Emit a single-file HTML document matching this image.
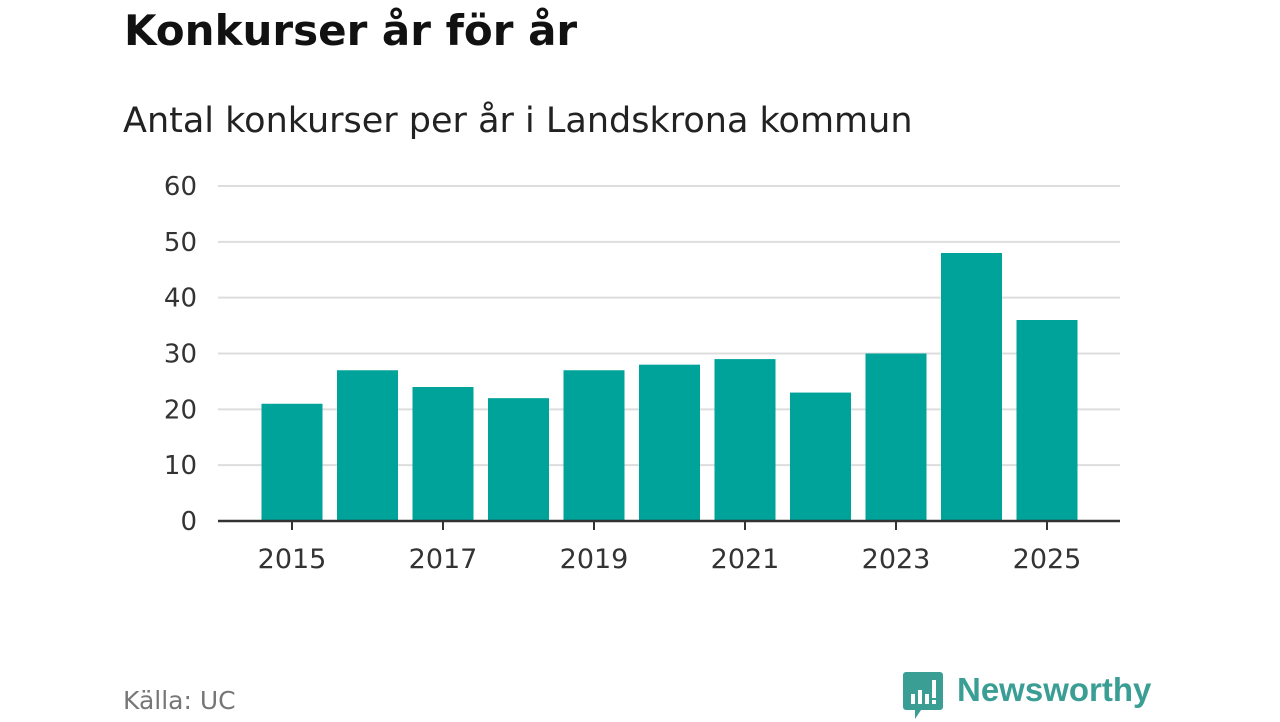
<!DOCTYPE html>
<html><head><meta charset="utf-8"><style>
body{margin:0;width:1280px;height:720px;background:#fff;font-family:"DejaVu Sans","Liberation Sans",sans-serif;overflow:hidden;position:relative}
.t{position:absolute;white-space:nowrap}
</style></head><body>
<div class="t" style="left:124px;top:6px;font-size:42px;font-weight:bold;color:#111">Konkurser år för år</div>
<div class="t" style="left:123px;top:101px;font-size:35px;color:#222">Antal konkurser per år i Landskrona kommun</div>
<svg id="chart" width="1280" height="720" style="position:absolute;left:0;top:0"></svg>
<div class="t" style="left:123px;top:686px;font-size:25px;color:#777">Källa: UC</div>
<svg style="position:absolute;left:903px;top:672px" width="40" height="50">
<path d="M3 0h34a3 3 0 0 1 3 3v32a3 3 0 0 1-3 3H18l-6 9v-9H3a3 3 0 0 1-3-3V3a3 3 0 0 1 3-3z" fill="#3a9e94"/>
<rect x="8" y="22" width="4" height="10" fill="#fff"/><rect x="15" y="18" width="4" height="14" fill="#fff"/><rect x="22" y="22" width="4" height="10" fill="#fff"/><rect x="29" y="8" width="4" height="18" fill="#fff"/><rect x="29" y="28" width="4" height="4" fill="#fff"/>
</svg>
<div class="t" style="left:957px;top:671px;font-size:33px;font-weight:bold;color:#3a9e94;font-family:'Liberation Sans',sans-serif">Newsworthy</div>
<script>
const years=[2015,2016,2017,2018,2019,2020,2021,2022,2023,2024,2025];
const values=[21,27,24,22,27,28,29,23,30,48,36];
const yTicks=[0,10,20,30,40,50,60];
const xLabels=[2015,2017,2019,2021,2023,2025];
const svg=document.getElementById('chart');
const NS='http://www.w3.org/2000/svg';
const y0=521,y60=186,x0=218,x1=1120;
const y=v=>y0-(v/60)*(y0-y60);
const step=75.5,first=292;
const x=yr=>first+(yr-2015)*step;
function el(t,a){const e=document.createElementNS(NS,t);for(const k in a)e.setAttribute(k,a[k]);svg.appendChild(e);return e;}
yTicks.forEach(v=>{
 if(v>0){const g=el('line',{x1:x0,x2:x1,y1:y(v),y2:y(v),stroke:'#ddd','stroke-width':2});
 
 }
 const t=el('text',{x:197,y:y(v)+9,'text-anchor':'end','font-size':26,fill:'#333','font-family':'DejaVu Sans, sans-serif'});
 t.textContent=v;
 
 
});
years.forEach((yr,i)=>{
 const r=el('rect',{x:x(yr)-30.5,y:y(values[i]),width:61,height:y0-y(values[i]),fill:'#00a39a'});
 
 
});
const ax=el('line',{x1:x0,x2:x1,y1:y0,y2:y0,stroke:'#333','stroke-width':2.5});


xLabels.forEach(yr=>{
 const tk=el('line',{x1:x(yr),x2:x(yr),y1:y0,y2:y0+9,stroke:'#333','stroke-width':2});
 
 
 const t=el('text',{x:x(yr),y:568,'text-anchor':'middle','font-size':27,fill:'#333','font-family':'DejaVu Sans, sans-serif'});
 t.textContent=yr;
 
 
});
</script>
</body></html>
